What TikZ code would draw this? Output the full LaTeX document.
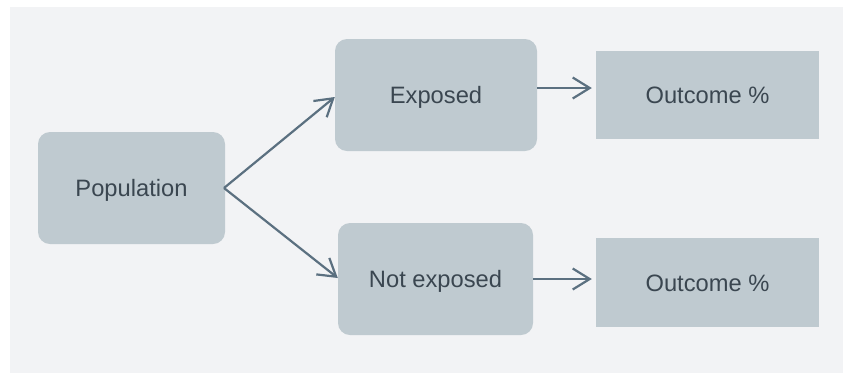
\documentclass[tikz,border=0pt]{standalone}
\usepackage{fontspec}
\setmainfont{Liberation Sans}
\usetikzlibrary{arrows.meta}
\definecolor{panel}{HTML}{F2F3F5}
\definecolor{boxfill}{HTML}{BFCAD0}
\definecolor{txt}{HTML}{3A4650}
\definecolor{arr}{HTML}{5B7080}
\tikzset{
  boxtext/.style={inner sep=0pt, text=txt, font=\fontsize{23.7}{28}\selectfont, text height=17pt, text depth=0pt},
  rbox/.style={fill=boxfill, rounded corners=12pt, boxtext},
  sbox/.style={fill=boxfill, boxtext},
  conn/.style={draw=arr, line width=2.2pt, -{Straight Barb[length=17pt,width=21pt,line width=2.2pt]}}
}
\begin{document}
\begin{tikzpicture}[x=1pt,y=-1pt]
\useasboundingbox (0,0) rectangle (845,373);
\fill[white] (0,0) rectangle (845,373);
\fill[panel] (10,7) rectangle (843,373);
\node[rbox, minimum width=187pt, minimum height=112pt] (pop) at (131.5,188) {Population};
\node[rbox, minimum width=202pt, minimum height=112pt] (exp) at (436,95) {Exposed};
\node[rbox, minimum width=195pt, minimum height=112pt] (nexp) at (435.5,279) {Not exposed};
\node[sbox, minimum width=223pt, minimum height=88pt] (out1) at (707.5,95) {Outcome \%};
\node[sbox, minimum width=223pt, minimum height=89pt] (out2) at (707.5,282.5) {Outcome \%};
\coordinate (s) at (224,188);
\draw[conn] (s) -- (exp.west |- 0,97);
\draw[conn] (s) -- (nexp.west |- 0,278);
\draw[conn] (exp.east |- 0,88) -- ([xshift=-4pt]out1.west |- 0,88);
\draw[conn] (nexp.east |- 0,279) -- ([xshift=-4pt]out2.west |- 0,279);
\end{tikzpicture}
\end{document}
